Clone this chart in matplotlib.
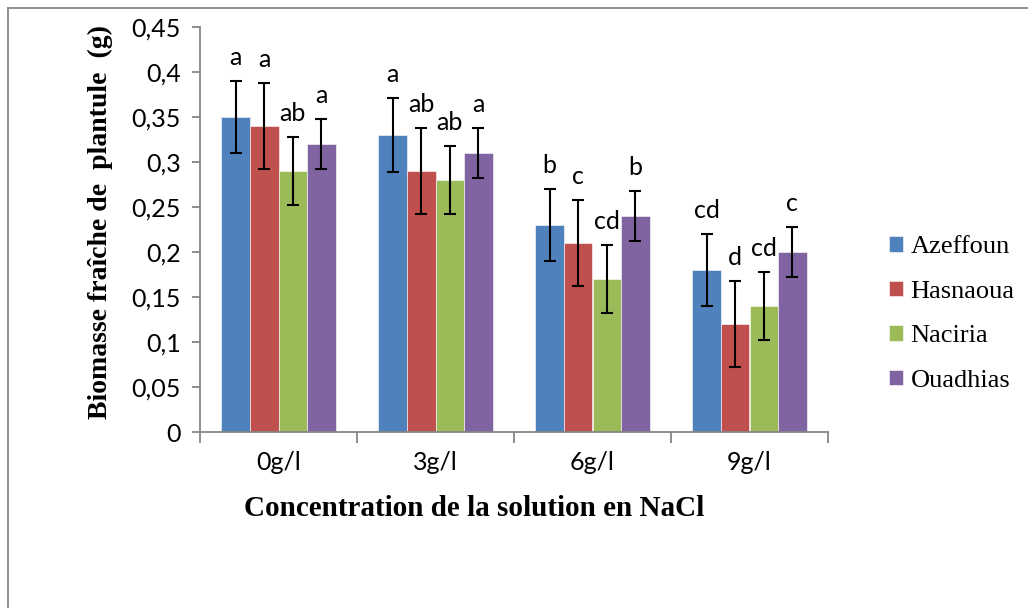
import numpy as np
import matplotlib.pyplot as plt
from matplotlib.lines import Line2D

concentrations = ["0g/l", "3g/l", "6g/l", "9g/l"]
varietes = ["Azeffoun", "Hasnaoua", "Naciria", "Ouadhias"]
couleurs = ["#4F81BD", "#C0504D", "#9BBB59", "#8064A2"]

azeffoun = [0.35, 0.33, 0.23, 0.18]
hasnaoua = [0.34, 0.29, 0.21, 0.12]
naciria = [0.29, 0.28, 0.17, 0.14]
ouadhias = [0.32, 0.31, 0.24, 0.20]

err_azeffoun = [0.040, 0.041, 0.040, 0.040]
err_hasnaoua = [0.048, 0.048, 0.048, 0.048]
err_naciria = [0.038, 0.038, 0.038, 0.038]
err_ouadhias = [0.028, 0.028, 0.028, 0.028]

lettres_azeffoun = ["a", "a", "b", "cd"]
lettres_hasnaoua = ["a", "ab", "c", "d"]
lettres_naciria = ["ab", "ab", "cd", "cd"]
lettres_ouadhias = ["a", "a", "b", "c"]

series = [azeffoun, hasnaoua, naciria, ouadhias]
erreurs = [err_azeffoun, err_hasnaoua, err_naciria, err_ouadhias]
lettres = [lettres_azeffoun, lettres_hasnaoua, lettres_naciria, lettres_ouadhias]

gris = "#868686"
sans = "Lato"
serif = "Liberation Serif"

fig = plt.figure(figsize=(10.28, 6.08), dpi=100)
ax = fig.add_axes([200 / 1028, 176 / 608, 628 / 1028, 405 / 608])

x = np.arange(len(concentrations))
largeur = 0.182
for i, (vals, errs, lets) in enumerate(zip(series, erreurs, lettres)):
    pos = x + (i - 1.5) * largeur
    ax.bar(pos, vals, largeur, color=couleurs[i], label=varietes[i],
           edgecolor="white", linewidth=0.4, zorder=2)
    ax.errorbar(pos, vals, yerr=errs, fmt="none", ecolor="black",
                elinewidth=1.5, capsize=4.5, capthick=1.5, zorder=3)
    for p, v, e, l in zip(pos, vals, errs, lets):
        ax.text(p, v + e + 0.026, l, ha="center", va="center",
                fontsize=18, family=sans)

ax.set_xlim(-0.5, 3.5)
ax.set_ylim(0, 0.45)
ax.set_yticks(np.arange(0, 0.451, 0.05))
ax.set_yticklabels(["0"] + [f"{v:.2f}".rstrip("0").replace(".", ",")
                            for v in np.arange(0.05, 0.451, 0.05)],
                   fontsize=18, family=sans)
ax.set_xticks(np.arange(-0.5, 3.6, 1))
ax.set_xticklabels([])
ax.set_xticks(x, minor=True)
ax.set_xticklabels(concentrations, minor=True, fontsize=18, family=sans)
ax.tick_params(axis="x", which="major", length=8, width=1.3, color=gris)
ax.tick_params(axis="x", which="minor", length=0, pad=14)
ax.tick_params(axis="y", length=6, width=1.3, color=gris, pad=8)

for s in ["top", "right"]:
    ax.spines[s].set_visible(False)
for s in ["left", "bottom"]:
    ax.spines[s].set_color(gris)
    ax.spines[s].set_linewidth(1.3)

fig.text(100 / 1028, 1 - 222 / 608, "Biomasse fraîche de  plantule  (g)",
         rotation=90, ha="center", va="center", fontsize=20,
         fontweight="bold", family=serif)
fig.text(474 / 1028, 1 - 508 / 608, "Concentration de la solution en NaCl",
         ha="center", va="center", fontsize=21, fontweight="bold", family=serif)

fig.legend(loc="center left", bbox_to_anchor=(889 / 1028, 1 - 314 / 608),
           frameon=False, prop={"family": serif, "size": 19},
           handlelength=0.52, handleheight=0.52, handletextpad=0.3,
           labelspacing=0.85, borderaxespad=0, borderpad=0)

# cadre du graphique
fig.add_artist(Line2D([8 / 1028, 8 / 1028], [0, 1 - 8 / 608],
                      transform=fig.transFigure, color=gris, lw=1.3))
fig.add_artist(Line2D([8 / 1028, 1], [1 - 8 / 608, 1 - 8 / 608],
                      transform=fig.transFigure, color=gris, lw=1.3))

fig.savefig("out.png", dpi=100)
